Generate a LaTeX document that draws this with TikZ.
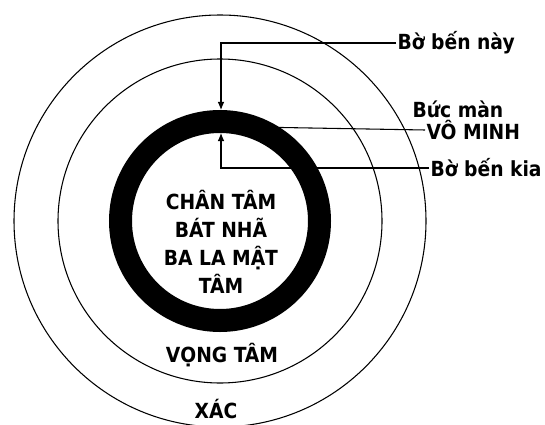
\documentclass[tikz,border=0pt]{standalone}
\usepackage{fontspec}
\setmainfont{DejaVu Sans Condensed}
\usetikzlibrary{arrows.meta}
\begin{document}
\begin{tikzpicture}[x=.75pt,y=-.75pt,
		lbl/.style={font=\fontsize{15.6}{21}\bfseries\selectfont,inner sep=1pt},
		ring/.style={line width=.8pt},
		tip/.style={-{Latex[length=6pt,width=5pt]},line width=.8pt}]
	\useasboundingbox (0,0) rectangle (545,424);
	\draw[ring] (220,221) circle (206);
	\draw[ring] (220,221) circle (162);
	\draw[line width=17.25pt] (220,221) circle (99.5);
	\node[lbl,align=center] (tam) at (221,242) {CHÂN TÂM\\BÁT NHÃ\\BA LA MẬT\\TÂM};
	\node[lbl] (vong) at (222,355) {VỌNG TÂM};
	\node[lbl] (xac) at (216,409) {XÁC};
	\node[lbl,anchor=west] (nay) at (396,43) {Bờ bến này};
	\node[lbl,anchor=west] (buc) at (411,109) {Bức màn};
	\node[lbl,anchor=west] (minh) at (425,130) {VÔ MINH};
	\node[lbl,anchor=west] (kia) at (429,168) {Bờ bến kia};
	\coordinate (tnay) at (221,110);
	\coordinate (tkia) at (221,133);
	\coordinate (mran) at (253,127);
	\draw[tip] (nay.west) -| (tnay);
	\draw[tip] (kia.west) -| (tkia);
	\draw[ring] (minh.west) -- (mran);
\end{tikzpicture}
\end{document}
